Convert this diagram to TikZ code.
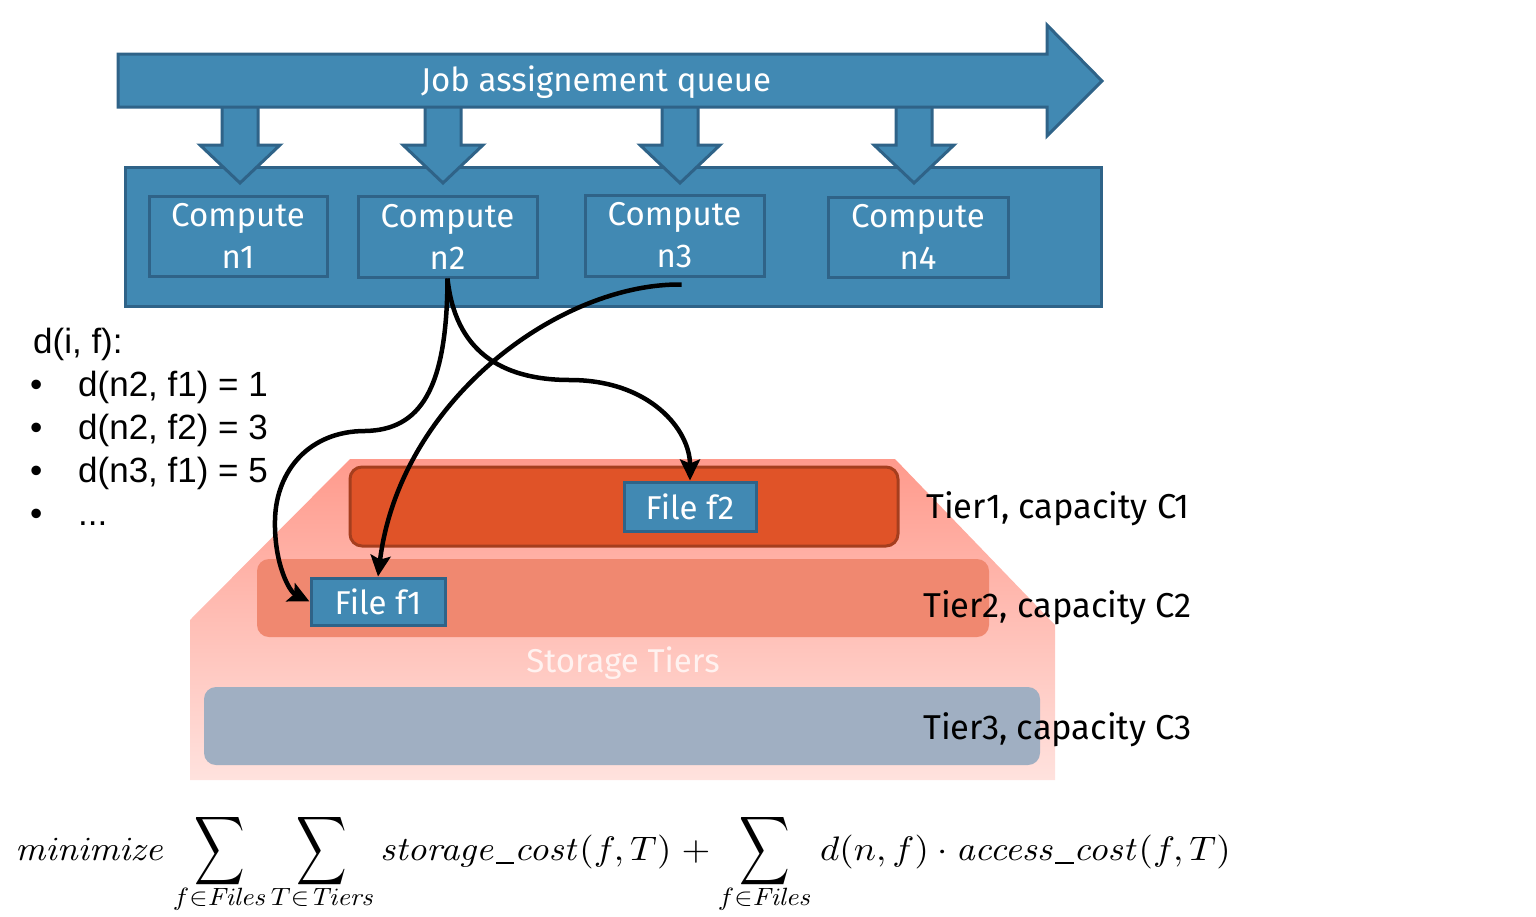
\documentclass[tikz,border=0pt]{standalone}
\usepackage[no-math]{fontspec}
\setmainfont{Fira Sans}
\newfontfamily\arialfont{Liberation Sans}
\usetikzlibrary{arrows.meta}
\definecolor{qblue}{RGB}{65,137,179}
\definecolor{qborder}{RGB}{47,99,136}
\definecolor{tierone}{RGB}{224,83,40}
\definecolor{tieroneb}{RGB}{165,62,30}
\definecolor{tiertwo}{RGB}{240,136,112}
\definecolor{tierthree}{RGB}{160,175,194}
\definecolor{pinktop}{RGB}{255,154,140}
\definecolor{pinkbot}{RGB}{255,226,222}
\definecolor{stortext}{RGB}{255,242,240}
\newcommand{\usc}{\rule[-0.12em]{0.5em}{0.05em}}
\newcommand{\fsc}[1]{\scalebox{3.7}[3.4]{$#1$}}
\newcommand{\ssc}[1]{\scalebox{2.75}[2.5]{$#1$}}
\newcommand{\bsum}{\scalebox{3.5}[4.8]{$\displaystyle\sum$}}
\begin{document}
\begin{tikzpicture}[x=1pt,y=-1pt,
  bluefill/.style={draw=qborder, line width=3pt, fill=qblue, line join=miter},
  bluebox/.style={draw=qborder, line width=3pt, fill=qblue, text=white, inner sep=0pt,
    align=center, font=\fontsize{33}{42}\selectfont},
  tierbox/.style={draw=none, rounded corners=12pt},
  lbl/.style={font=\fontsize{33}{40}\selectfont, inner sep=0pt},
  tlbl/.style={font=\fontsize{34.5}{40}\selectfont, inner sep=0pt, anchor=base west},
  dlist/.style={font=\arialfont\fontsize{35}{40}\selectfont, inner sep=0pt, anchor=base west},
  link/.style={line width=4.5pt, -{Stealth[length=21pt,width=20pt,inset=4pt]}},
  fm/.style={inner sep=0pt},
  fsub/.style={inner sep=0pt, anchor=base},
  bigsum/.style={inner sep=0pt}
]
\useasboundingbox (0,0) rectangle (1536,916);

% compute cluster
\path[bluefill] (125,167) rectangle (1101,306);
\foreach \cx in {240,443,680,914}{
  \path[bluefill] (\cx-18,104) -- (\cx+18,104) -- (\cx+18,145) -- (\cx+40,145)
    -- (\cx,183) -- (\cx-40,145) -- (\cx-18,145) -- cycle;
}
% queue arrow
\path[bluefill] (118,54) -- (1047,54) -- (1047,25) -- (1102,81) -- (1047,136)
  -- (1047,107) -- (118,107) -- cycle;
\node[lbl, text=white] (queue) at (596,82) {Job assignement queue};

\node[bluebox, minimum width=178pt, minimum height=80pt] (n1) at (238,236) {Compute\\n1};
\node[bluebox, minimum width=179pt, minimum height=81pt] (n2) at (447.5,236.5) {Compute\\n2};
\node[bluebox, minimum width=179pt, minimum height=81pt] (n3) at (674.5,235.5) {Compute\\n3};
\node[bluebox, minimum width=180pt, minimum height=80pt] (n4) at (918,237) {Compute\\n4};

% storage tiers
\shade[top color=pinktop, bottom color=pinkbot] (190,780) -- (190,620) -- (350,459)
  -- (895,459) -- (1055,625) -- (1055,780) -- cycle;
\node[tierbox, draw=tieroneb, line width=3pt, fill=tierone, minimum width=548pt,
  minimum height=79pt] (t1) at (624,506.5) {};
\node[tierbox, fill=tiertwo, minimum width=732pt, minimum height=78pt] (t2) at (623,598) {};
\node[tierbox, fill=tierthree, minimum width=836pt, minimum height=78pt] (t3) at (622,726) {};
\node[lbl, text=stortext] (st) at (623,663) {Storage Tiers};

\node[bluebox, minimum width=132pt, minimum height=49pt] (f2) at (690,506.5) {File f2};
\node[bluebox, minimum width=134pt, minimum height=47pt] (f1) at (378,601.5) {File f1};

\node[tlbl] (l1) at (926,518) {Tier1, capacity C1};
\node[tlbl] (l2) at (923,617) {Tier2, capacity C2};
\node[tlbl] (l3) at (923,739) {Tier3, capacity C3};

% d(i,f) list
\node[dlist] (dh) at (33,353) {d(i, f):};
\node[dlist] (b1) at (30,396) {\textbullet};
\node[dlist] (d1) at (78,396) {d(n2, f1) = 1};
\node[dlist] (b2) at (30,439) {\textbullet};
\node[dlist] (d2) at (78,439) {d(n2, f2) = 3};
\node[dlist] (b3) at (30,482) {\textbullet};
\node[dlist] (d3) at (78,482) {d(n3, f1) = 5};
\node[dlist] (b4) at (30,525) {\textbullet};
\node[dlist] (d4) at (78,525) {...};

% links
\draw[link] (n2.south) .. controls (447,390) and (420,430) .. (365,431)
  .. controls (310,431) and (276,470) .. (275,520)
  .. controls (274,565) and (290,592) .. (f1.west);
\draw[link] (n2.south) .. controls (455,350) and (500,380) .. (570,380)
  .. controls (650,380) and (690,430) .. (f2.north);
\draw[link] ([xshift=7pt,yshift=-7pt]n3.south) .. controls (560,283) and (400,400) .. (f1.north);

% formula
\node[fm, anchor=base west] (fmin) at (15,860) {\fsc{\mathit{minimize}}};
\node[bigsum] (s1) at (220,851) {\bsum};
\node[fsub] (s1s) at (220,905) {\ssc{f{\in}\mathit{Files}}};
\node[bigsum] (s2) at (322,851) {\bsum};
\node[fsub] (s2s) at (323,905) {\ssc{T{\in}\mathit{Tiers}}};
\node[fm, anchor=base west] (fst) at (380,860) {\fsc{\mathit{storage\usc cost}(f,T)\;+}};
\node[bigsum] (s3) at (765,851) {\bsum};
\node[fsub] (s3s) at (765,905) {\ssc{f{\in}\mathit{Files}}};
\node[fm, anchor=base west] (fac) at (820,860) {\fsc{d(n,f)\cdot\mathit{access\usc cost}(f,T)}};
\end{tikzpicture}
\end{document}
